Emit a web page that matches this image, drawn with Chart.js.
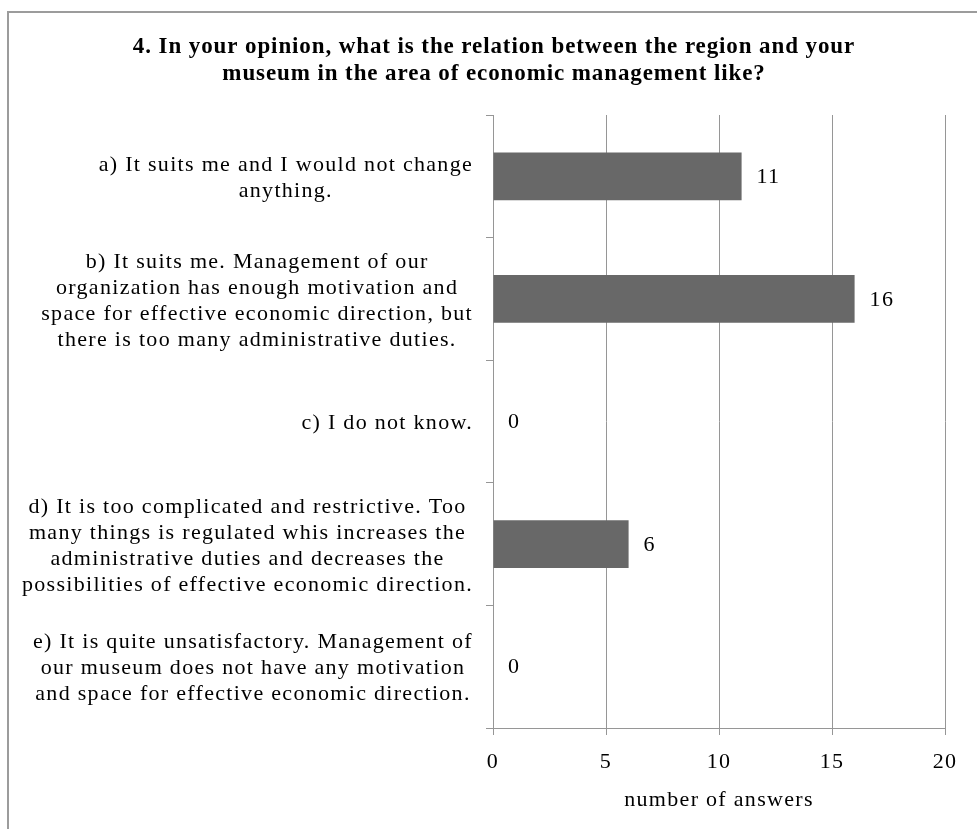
<!DOCTYPE html>
<html>
<head>
<meta charset="utf-8">
<script src="https://cdn.jsdelivr.net/npm/chart.js@4.4.1/dist/chart.umd.min.js"></script>
<style>
  html, body { margin: 0; padding: 0; background: #ffffff; overflow: hidden; }
  #frame { position: absolute; left: 7px; top: 11px; width: 1100px; height: 1000px;
           border-left: 2px solid #9c9c9c; border-top: 2px solid #9c9c9c; box-sizing: border-box; }
  #c { position: absolute; left: 0; top: 0; }
</style>
</head>
<body>
<div id="frame"></div>
<canvas id="c" width="977" height="829"></canvas>
<script>
// ---- data ----
const titleLines = [
  "4. In your opinion, what is the relation between the region and your",
  "museum in the area of economic management like?"
];
const categories = [
  ["a) It suits me and I would not change", "anything."],
  ["b) It suits me. Management of our", "organization has enough motivation and", "space for effective economic direction, but", "there is too many administrative duties."],
  ["c) I do not know."],
  ["d) It is too complicated and restrictive. Too", "many things is regulated whis increases the", "administrative duties and decreases the", "possibilities of effective economic direction."],
  ["e) It is quite unsatisfactory. Management of", "our museum does not have any motivation", "and space for effective economic direction."]
];
const answers = [11, 16, 0, 6, 0];
const xAxisTitle = "number of answers";
const xMin = 0, xMax = 20, xStep = 5;

const SERIF = "'Liberation Serif', 'Times New Roman', serif";
const SPACING = '1.3px';

const textPlugin = {
  id: 'textPlugin',
  beforeDraw(chart) {
    chart.ctx.letterSpacing = SPACING;
  },
  afterDraw(chart) {
    const ctx = chart.ctx;
    const y = chart.scales.y, x = chart.scales.x;
    ctx.save();
    ctx.fillStyle = '#000';
    // title
    ctx.letterSpacing = '0.9px';
    ctx.font = 'bold 23px ' + SERIF;
    ctx.textAlign = 'center';
    ctx.textBaseline = 'middle';
    titleLines.forEach((t, i) => ctx.fillText(t, 494, 47 + i * 27));
    // category labels
    ctx.letterSpacing = SPACING;
    ctx.font = '22px ' + SERIF;
    const right = chart.chartArea.left - 20;
    const lh = 26;
    categories.forEach((lines, i) => {
      const cy = y.getPixelForValue(i);
      let w = 0;
      lines.forEach(l => { w = Math.max(w, ctx.measureText(l).width); });
      const cx = right - w / 2;
      lines.forEach((l, k) => {
        ctx.fillText(l, cx, cy + (k - (lines.length - 1) / 2) * lh + 2);
      });
    });
    // value labels
    ctx.textAlign = 'left';
    answers.forEach((v, i) => {
      ctx.fillText(String(v), x.getPixelForValue(v) + 15, y.getPixelForValue(i) + 1);
    });
    ctx.restore();
  }
};

new Chart(document.getElementById('c'), {
  type: 'bar',
  data: {
    labels: categories,
    datasets: [{
      data: answers,
      backgroundColor: '#686868',
      borderWidth: 0,
      barPercentage: 0.39,
      categoryPercentage: 1.0
    }]
  },
  options: {
    indexAxis: 'y',
    responsive: false,
    devicePixelRatio: 1,
    animation: false,
    layout: { padding: { top: 115, right: 32, bottom: 0, left: 0 } },
    plugins: { legend: { display: false }, title: { display: false }, tooltip: { enabled: false } },
    scales: {
      x: {
        min: xMin, max: xMax,
        ticks: { stepSize: xStep, color: '#000', font: { family: SERIF, size: 22 }, padding: 14 },
        grid: { color: '#969696', lineWidth: 1, tickLength: 7, tickColor: '#969696' },
        border: { color: '#969696', width: 1 },
        title: { display: true, text: xAxisTitle, color: '#000', font: { family: SERIF, size: 22 }, padding: { top: 0, bottom: 16 } },
        afterFit(scale) { scale.height = 101; }
      },
      y: {
        ticks: { display: false },
        grid: { drawOnChartArea: false, drawTicks: true, tickLength: 7, color: '#969696', offset: true },
        border: { color: '#969696', width: 1 },
        afterFit(scale) { scale.width = 493; }
      }
    }
  },
  plugins: [textPlugin]
});
</script>
</body>
</html>
